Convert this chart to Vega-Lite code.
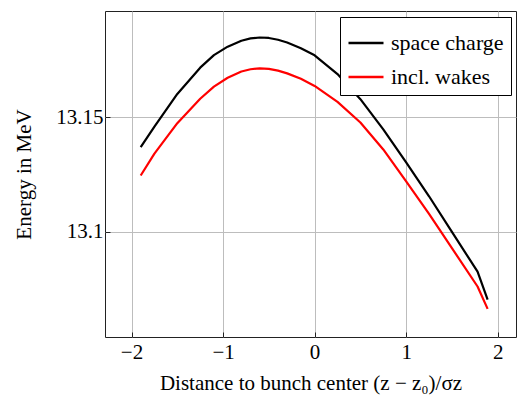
{
  "$schema": "https://vega.github.io/schema/vega-lite/v6.json",
  "width": 411,
  "height": 326,
  "autosize": {"type": "none"},
  "padding": {"left": 105, "top": 11, "right": 1, "bottom": 61},
  "background": "white",
  "config": {
    "view": {"stroke": "#222", "strokeWidth": 1},
    "font": "Liberation Serif",
    "axis": {
      "labelFont": "Liberation Serif",
      "titleFont": "Liberation Serif",
      "labelFontSize": 21,
      "titleFontSize": 21,
      "titleFontWeight": "normal",
      "labelColor": "black",
      "titleColor": "black",
      "gridColor": "#bdbdbd",
      "gridOpacity": 1,
      "gridWidth": 1,
      "domain": false,
      "tickColor": "#222",
      "tickSize": -5
    },
    "legend": {"labelFont": "Liberation Serif"}
  },
  "data": {
    "values": [
      {"x": -1.9, "E": 13.1370, "s": "space charge"},
      {"x": -1.75, "E": 13.1460, "s": "space charge"},
      {"x": -1.5, "E": 13.1603, "s": "space charge"},
      {"x": -1.25, "E": 13.1718, "s": "space charge"},
      {"x": -1.1, "E": 13.1773, "s": "space charge"},
      {"x": -0.95, "E": 13.1810, "s": "space charge"},
      {"x": -0.8, "E": 13.1836, "s": "space charge"},
      {"x": -0.7, "E": 13.1846, "s": "space charge"},
      {"x": -0.6, "E": 13.1850, "s": "space charge"},
      {"x": -0.5, "E": 13.1848, "s": "space charge"},
      {"x": -0.4, "E": 13.1840, "s": "space charge"},
      {"x": -0.3, "E": 13.1828, "s": "space charge"},
      {"x": -0.15, "E": 13.1803, "s": "space charge"},
      {"x": 0.0, "E": 13.1772, "s": "space charge"},
      {"x": 0.25, "E": 13.1690, "s": "space charge"},
      {"x": 0.5, "E": 13.1580, "s": "space charge"},
      {"x": 0.75, "E": 13.1448, "s": "space charge"},
      {"x": 1.0, "E": 13.1303, "s": "space charge"},
      {"x": 1.25, "E": 13.1155, "s": "space charge"},
      {"x": 1.5, "E": 13.0999, "s": "space charge"},
      {"x": 1.78, "E": 13.0825, "s": "space charge"},
      {"x": 1.89, "E": 13.0703, "s": "space charge"},
      {"x": -1.9, "E": 13.1246, "s": "incl. wakes"},
      {"x": -1.75, "E": 13.1342, "s": "incl. wakes"},
      {"x": -1.5, "E": 13.1475, "s": "incl. wakes"},
      {"x": -1.25, "E": 13.1582, "s": "incl. wakes"},
      {"x": -1.1, "E": 13.1635, "s": "incl. wakes"},
      {"x": -0.95, "E": 13.1674, "s": "incl. wakes"},
      {"x": -0.8, "E": 13.1701, "s": "incl. wakes"},
      {"x": -0.7, "E": 13.1711, "s": "incl. wakes"},
      {"x": -0.6, "E": 13.1715, "s": "incl. wakes"},
      {"x": -0.5, "E": 13.1713, "s": "incl. wakes"},
      {"x": -0.4, "E": 13.1705, "s": "incl. wakes"},
      {"x": -0.3, "E": 13.1693, "s": "incl. wakes"},
      {"x": -0.15, "E": 13.1669, "s": "incl. wakes"},
      {"x": 0.0, "E": 13.1638, "s": "incl. wakes"},
      {"x": 0.25, "E": 13.1568, "s": "incl. wakes"},
      {"x": 0.5, "E": 13.1478, "s": "incl. wakes"},
      {"x": 0.75, "E": 13.1360, "s": "incl. wakes"},
      {"x": 1.0, "E": 13.1220, "s": "incl. wakes"},
      {"x": 1.25, "E": 13.1078, "s": "incl. wakes"},
      {"x": 1.5, "E": 13.0928, "s": "incl. wakes"},
      {"x": 1.78, "E": 13.0760, "s": "incl. wakes"},
      {"x": 1.89, "E": 13.0662, "s": "incl. wakes"}
    ]
  },
  "mark": {"type": "line", "strokeWidth": 2.2, "strokeJoin": "round", "interpolate": "linear"},
  "encoding": {
    "x": {
      "field": "x",
      "type": "quantitative",
      "scale": {"domain": [-2.29, 2.2], "nice": false, "zero": false},
      "axis": {
        "values": [-2, -1, 0, 1, 2],
        "title": "Distance to bunch center (z − z₀)/σz",
        "labelPadding": 9,
        "titlePadding": 10
      }
    },
    "y": {
      "field": "E",
      "type": "quantitative",
      "scale": {"domain": [13.0539, 13.1966], "nice": false, "zero": false},
      "axis": {
        "values": [13.1, 13.15],
        "labelExpr": "format(datum.value, '~g')",
        "title": "Energy in MeV",
        "labelPadding": 7,
        "titlePadding": 21
      }
    },
    "color": {
      "field": "s",
      "type": "nominal",
      "sort": ["space charge", "incl. wakes"],
      "scale": {"domain": ["space charge", "incl. wakes"], "range": ["#000000", "#ff0000"]},
      "legend": {
        "title": null,
        "orient": "none",
        "legendX": 235,
        "legendY": 6,
        "symbolType": "stroke",
        "symbolSize": 1225,
        "symbolStrokeWidth": 2.5,
        "labelFont": "Liberation Serif",
        "labelFontSize": 22,
        "labelColor": "black",
        "strokeColor": "black",
        "fillColor": "white",
        "padding": 7,
        "rowPadding": 4,
        "labelOffset": 6
      }
    }
  }
}
